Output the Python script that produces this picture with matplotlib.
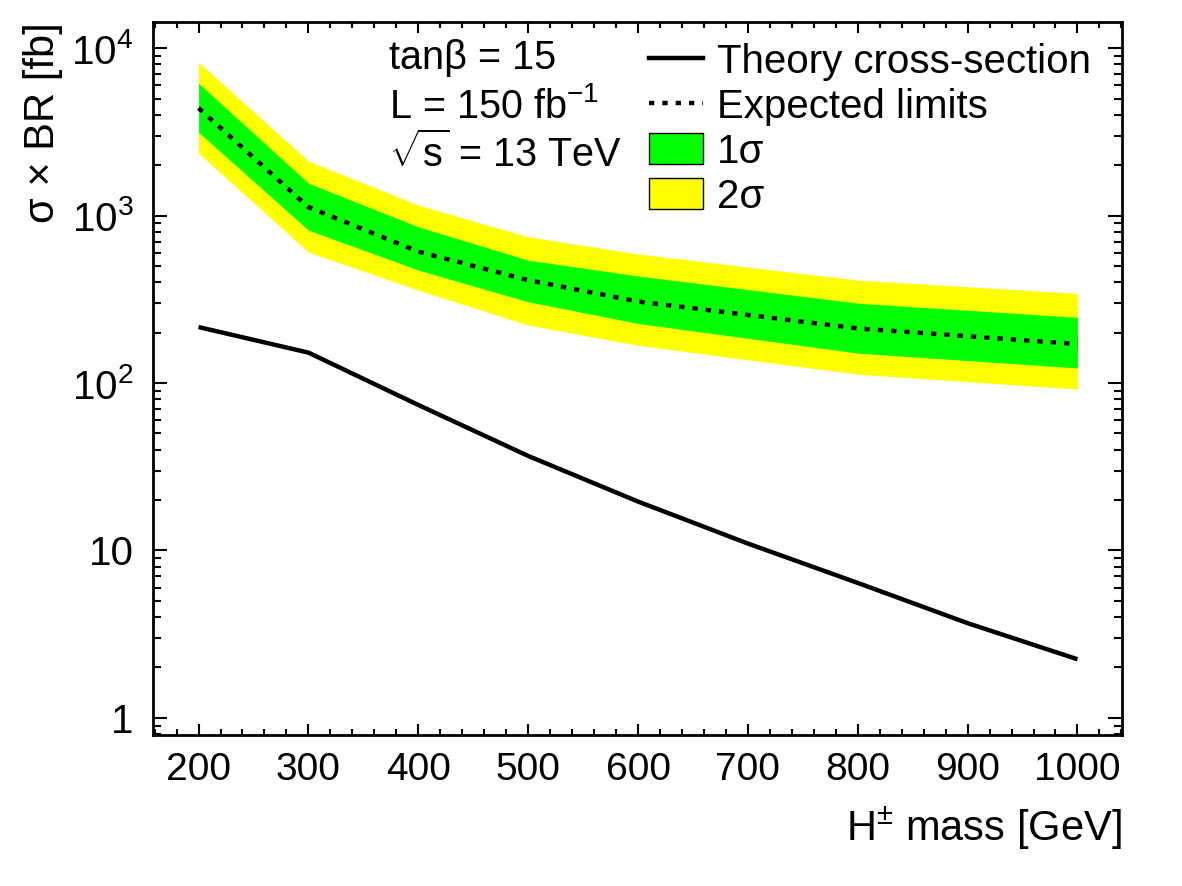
import numpy as np
import matplotlib
matplotlib.use('Agg')
import matplotlib.pyplot as plt
from matplotlib.ticker import FixedLocator, FixedFormatter, MultipleLocator
from matplotlib.patches import Patch
from matplotlib.lines import Line2D

plt.rcParams['font.family'] = ['Liberation Sans', 'DejaVu Sans']
plt.rcParams['mathtext.fontset'] = 'custom'
plt.rcParams['mathtext.rm'] = 'Liberation Sans'
plt.rcParams['mathtext.it'] = 'Liberation Sans'
plt.rcParams['mathtext.sf'] = 'Liberation Sans'

# theory cross-section [fb]
theory_mass = [200, 300, 400, 500, 600, 700, 800, 900, 1000]
theory_xsec = [216, 152, 74, 36.7, 19.6, 11.0, 6.4, 3.68, 2.24]

# expected limits and bands [fb]
lim_mass = [200, 300, 400, 500, 600, 800, 1000]
expected = [4390, 1125, 610, 412, 307, 212, 171]
one_lo = [3150, 819, 473, 306, 227, 151, 123]
one_hi = [6180, 1563, 857, 542, 436, 300, 247]
two_lo = [2360, 606, 359, 222, 168, 113, 92]
two_hi = [8250, 2115, 1155, 747, 590, 412, 343]

ytick_vals = [1, 10, 100, 1000, 10000]
ytick_labels = ['1', '10', r'$10^{2}$', r'$10^{3}$', r'$10^{4}$']

dotted = (0, (1.2, 1.8))

fig = plt.figure(figsize=(11.82, 8.86), dpi=100)
ax = fig.add_axes([0.1294, 0.1704, 0.9492 - 0.1294, 0.9755 - 0.1704])

ax.fill_between(lim_mass, two_lo, two_hi, color='#ffff00', lw=0)
ax.fill_between(lim_mass, one_lo, one_hi, color='#00ff00', lw=0)
ax.plot(lim_mass, expected, color='black', lw=3.2, linestyle=dotted,
        dash_capstyle='butt')
ax.plot(theory_mass, theory_xsec, color='black', lw=3.2, solid_capstyle='butt')

ax.set_yscale('log')
ax.set_xlim(158.5, 1040.5)
ax.set_ylim(0.79, 14400)

ax.xaxis.set_major_locator(MultipleLocator(100))
ax.xaxis.set_minor_locator(MultipleLocator(20))
ax.yaxis.set_major_locator(FixedLocator(ytick_vals))
ax.yaxis.set_major_formatter(FixedFormatter(ytick_labels))

ax.tick_params(which='both', direction='in', top=True, right=True, width=1.5,
               labelsize=28)
ax.tick_params(axis='y', labelsize=29)
ax.tick_params(axis='x', which='major', length=8, pad=12)
ax.tick_params(axis='x', which='minor', length=4.5)
ax.tick_params(axis='y', which='major', length=10, pad=14)
ax.tick_params(axis='y', which='minor', length=6)
for s in ax.spines.values():
    s.set_linewidth(2)

fig.text(0.9492, 1 - 828 / 886, r'H$^{\pm}$ mass [GeV]', ha='right',
         va='center', fontsize=30)
fig.text(0.036, 0.975, 'σ × BR [fb]', rotation=90, ha='center', va='top',
         fontsize=30)

ax.text(389 / 1182, 1 - 69 / 886, 'tanβ = 15', transform=fig.transFigure,
        fontsize=28.5, va='baseline')
ax.text(389 / 1182, 1 - 118 / 886, r'L = 150 fb$^{\mathdefault{-1}}$',
        transform=fig.transFigure, fontsize=28.5, va='baseline')
ax.text(389 / 1182, 1 - 167 / 886, r'$\sqrt{\mathdefault{s}}$ = 13 TeV',
        transform=fig.transFigure, fontsize=28.5, va='baseline')

handles = [
    Line2D([], [], color='black', lw=3.2),
    Line2D([], [], color='black', lw=3.2, linestyle=dotted,
           dash_capstyle='butt'),
    Patch(facecolor='#00ff00', edgecolor='black', lw=1),
    Patch(facecolor='#ffff00', edgecolor='black', lw=1),
]
labels = ['Theory cross-section', 'Expected limits', '1σ', '2σ']
leg = ax.legend(handles, labels, loc='upper left',
                bbox_to_anchor=((649 - 153) / 969, 1 - (43 - 21.7) / 713),
                frameon=False, fontsize=29, borderpad=0, borderaxespad=0,
                handlelength=1.34, handleheight=0.8, handletextpad=0.35,
                labelspacing=0.17)

fig.savefig('out.png', dpi=100)
